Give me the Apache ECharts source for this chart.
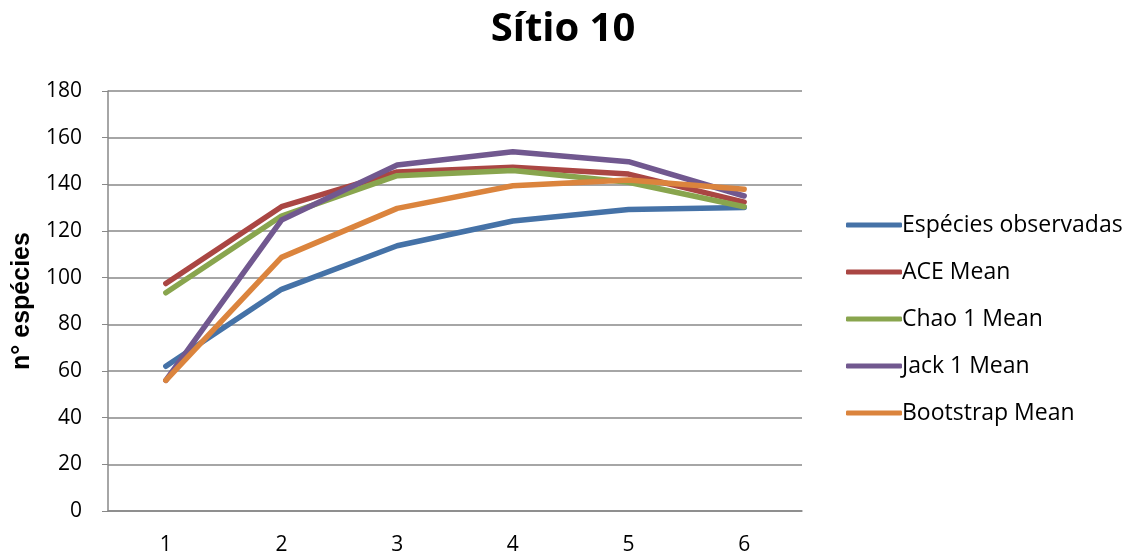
<!DOCTYPE html>
<html><head><meta charset="utf-8">
<script src="https://cdn.jsdelivr.net/npm/echarts@6/dist/echarts.min.js"></script>
<style>html,body{margin:0;padding:0;background:#fff}#c{width:1131px;height:558px}</style>
</head><body><div id="c"></div>
<script>
const categories = ['1','2','3','4','5','6'];
const especiesObservadas = [62, 95, 113.7, 124.3, 129.2, 130.1];
const aceMean = [97.5, 130.4, 145.3, 147.3, 144.4, 132.4];
const chao1Mean = [93.5, 126.4, 143.7, 145.9, 140.9, 130.4];
const jack1Mean = [56, 124.7, 148.3, 154, 149.7, 135];
const bootstrapMean = [56, 108.7, 129.7, 139.4, 141.9, 137.9];
const seriesNames = ['Espécies observadas','ACE Mean','Chao 1 Mean','Jack 1 Mean','Bootstrap Mean'];
const colors = ['#4572A7','#AA4643','#89A54E','#71588F','#DB843D'];
const allData = [especiesObservadas, aceMean, chao1Mean, jack1Mean, bootstrapMean];

const chart = echarts.init(document.getElementById('c'));
chart.setOption({
  animation: false,
  title: { text: 'Sítio 10', left: 558, textAlign: 'center', top: 5,
    textStyle: { fontFamily: 'Open Sans', fontWeight: 'bold', fontSize: 40, color: '#000' } },
  grid: { left: 108, right: 329, top: 91, bottom: 47 },
  legend: {
    orient: 'vertical', left: 841, top: 206, itemGap: 19, itemWidth: 56, itemHeight: 5,
    icon: 'roundRect',
    textStyle: { fontFamily: 'Open Sans', fontSize: 23, lineHeight: 28, color: '#000', padding: [0,0,0,-5] },
    data: seriesNames
  },
  xAxis: {
    type: 'category', data: categories, boundaryGap: true,
    axisLine: { lineStyle: { color: '#888', width: 1.5 } },
    axisTick: { show: false },
    axisLabel: { fontFamily: 'Open Sans', fontSize: 21, color: '#000', margin: 24 }
  },
  yAxis: {
    type: 'value', min: 0, max: 180, interval: 20,
    name: 'n° espécies', nameLocation: 'middle', nameGap: 73, nameRotate: 90,
    nameTextStyle: { fontFamily: 'Liberation Sans', fontWeight: 'bold', fontSize: 25, color: '#000' },
    axisLine: { show: true, lineStyle: { color: '#888', width: 1.5 } },
    axisTick: { show: true, length: 6, lineStyle: { color: '#888' } },
    axisLabel: { fontFamily: 'Open Sans', fontSize: 21, color: '#000', margin: 26 },
    splitLine: { lineStyle: { color: '#888', width: 1.5 } }
  },
  series: seriesNames.map((n, i) => ({
    name: n, type: 'line', data: allData[i], symbol: 'none', color: colors[i],
    lineStyle: { width: 5.5, color: colors[i], cap: 'round', join: 'round' }
  }))
});
</script></body></html>
